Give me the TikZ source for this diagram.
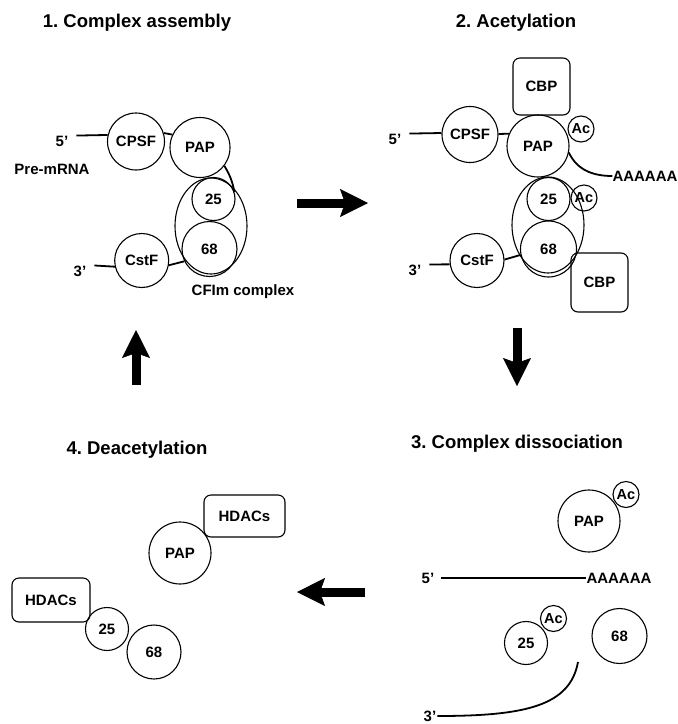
\documentclass[tikz,border=0pt]{standalone}
\usepackage{fontspec}
\setmainfont{Liberation Sans}
\frenchspacing
\usetikzlibrary{arrows.meta,shapes.geometric}
\begin{document}
\begin{tikzpicture}[x=1pt,y=-1pt,
  lbl/.style={font=\fontsize{15}{18}\selectfont\bfseries, inner sep=0pt},
  ttl/.style={font=\fontsize{18.5}{22}\selectfont\bfseries, inner sep=0pt},
  prot/.style={circle, draw, line width=1.1pt, minimum size=#1, inner sep=0pt,
    font=\fontsize{15}{18}\selectfont\bfseries},
  acet/.style={circle, draw, line width=1.1pt, minimum size=26pt, inner sep=0pt,
    font=\fontsize{14.5}{17}\selectfont\bfseries},
  protbox/.style 2 args={rectangle, rounded corners=7pt, draw, line width=1.1pt,
    inner sep=0pt, minimum width=#1, minimum height=#2,
    font=\fontsize{15}{18}\selectfont\bfseries},
  cfim/.style={ellipse, draw, line width=1.1pt, inner sep=0pt,
    minimum width=72pt, minimum height=96pt},
  rna/.style={line width=1.8pt},
  bigarrow/.style={line width=9pt,
    -{Stealth[length=28pt,width=28pt,inset=5pt,line width=0.5pt]}},
]
\useasboundingbox (0,0) rectangle (678,724);

% ---------- titles
\node[ttl] (t1) at (137,23) {1. Complex assembly};
\node[ttl] (t2) at (516,23) {2. Acetylation};
\node[ttl] (t3) at (517,444) {3. Complex dissociation};
\node[ttl] (t4) at (137,450) {4. Deacetylation};

% ---------- panel 1
\node[prot=57pt] (cpsf1) at (136,141.5) {CPSF};
\node[prot=60pt] (pap1) at (200,147.5) {PAP};
\node[cfim] (cfim1) at (211,226) {};
\node[prot=43pt] (p125) at (213.5,199) {25};
\node[prot=55pt] (p168) at (209.5,249) {68};
\node[prot=54pt] (cstf1) at (141.7,260.5) {CstF};
\node[lbl] (p1five) at (62,141) {5’};
\node[lbl] (p1pre) at (52,169) {Pre-mRNA};
\node[lbl] (p1three) at (80,271) {3’};
\node[lbl] (p1cfim) at (243,292) {CFIm complex};
\draw[rna] ([xshift=8pt]p1five.north east) -- (cpsf1.167);
\draw[rna] (cpsf1.17) -- (pap1.155);
\draw[rna] (pap1.-37) to[bend left=10] (p125.18);
\draw[rna] (cstf1.-10) -- (p168.206);
\draw[rna] ([xshift=8pt]p1three.north east) -- (cstf1.193);

% ---------- panel 2
\node[protbox={57pt}{57pt}] (cbp2a) at (541.5,86.5) {CBP};
\node[prot=56pt] (cpsf2) at (470,134.5) {CPSF};
\node[prot=62pt] (pap2) at (538,146) {PAP};
\node[acet] (ac2a) at (581,129) {Ac};
\node[cfim] (cfim2) at (548,225) {};
\node[prot=43pt] (p225) at (548.5,199) {25};
\node[acet] (ac2b) at (584,198) {Ac};
\node[prot=56pt] (p268) at (548.5,249) {68};
\node[prot=54pt] (cstf2) at (477,260.5) {CstF};
\node[protbox={57pt}{59pt}] (cbp2b) at (599.5,282.5) {CBP};
\node[lbl] (p2five) at (395,139) {5’};
\node[lbl] (p2three) at (415,270) {3’};
\node[lbl] (aaa2) at (645,176) {AAAAAA};
\draw[rna] ([xshift=8pt]p2five.north east) -- (cpsf2.177);
\draw[rna] (cpsf2.1) -- (pap2.157);
\draw[rna] (pap2.-12) to[out=-65,in=180] (aaa2.west);
\draw[rna] (cstf2.2) -- (p268.192);
\draw[rna] ([xshift=8pt]p2three.north east) -- (cstf2.188);

% ---------- panel 3
\node[prot=62pt] (pap3) at (589,521) {PAP};
\node[acet] (ac3a) at (626,494.5) {Ac};
\node[lbl] (p3five) at (428,578) {5’};
\node[lbl] (aaa3) at (619,578) {AAAAAA};
\node[prot=43pt] (p325) at (526,643) {25};
\node[acet] (ac3b) at (553.5,618.5) {Ac};
\node[prot=55pt] (p368) at (619.5,636) {68};
\node[lbl] (p3three) at (430,716) {3’};
\coordinate (c3top) at (578,662);
\draw[rna] ([xshift=7pt]p3five.east) -- (aaa3.west);
\draw[rna] (c3top) .. controls (570,706) and (525,716) .. ([xshift=1pt]p3three.east);

% ---------- panel 4
\node[protbox={81pt}{42pt}] (hdac4a) at (244.5,516) {HDACs};
\node[prot=62pt] (pap4) at (180,553) {PAP};
\node[protbox={78pt}{44pt}] (hdac4b) at (51,600) {HDACs};
\node[prot=43pt] (p425) at (107,629) {25};
\node[prot=54pt] (p468) at (154,652) {68};

% ---------- cycle arrows
\coordinate (a12s) at (297,203);
\coordinate (a12e) at (368,203);
\coordinate (a23s) at (517,328);
\coordinate (a23e) at (517,386);
\coordinate (a34s) at (365,592);
\coordinate (a34e) at (297,592);
\coordinate (a41s) at (136,385);
\coordinate (a41e) at (136,330);
\draw[bigarrow] (a12s) -- (a12e);
\draw[bigarrow] (a23s) -- (a23e);
\draw[bigarrow] (a34s) -- (a34e);
\draw[bigarrow] (a41s) -- (a41e);
\end{tikzpicture}
\end{document}
